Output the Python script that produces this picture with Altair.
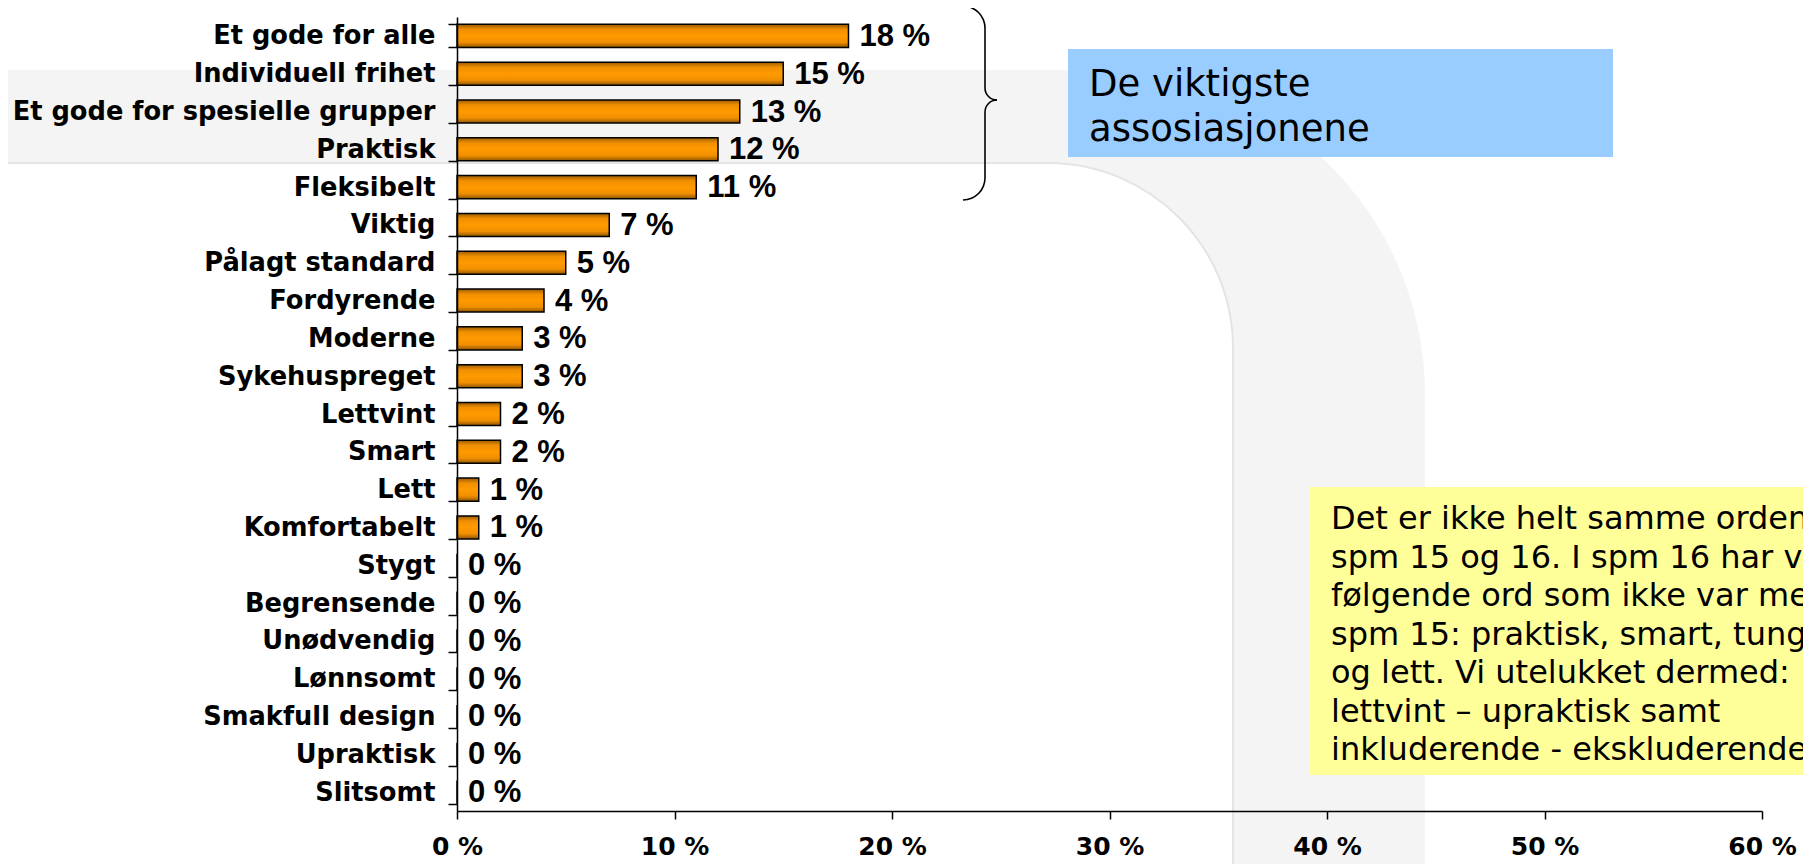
import math
import altair as alt
import pandas as pd

# ---------------- data ----------------
categories = [
    "Et gode for alle", "Individuell frihet", "Et gode for spesielle grupper",
    "Praktisk", "Fleksibelt", "Viktig", "Pålagt standard", "Fordyrende",
    "Moderne", "Sykehuspreget", "Lettvint", "Smart", "Lett", "Komfortabelt",
    "Stygt", "Begrensende", "Unødvendig", "Lønnsomt", "Smakfull design",
    "Upraktisk", "Slitsomt",
]
values = [18, 15, 13, 12, 11, 7, 5, 4, 3, 3, 2, 2, 1, 1, 0, 0, 0, 0, 0, 0, 0]
x_ticks = [0, 10, 20, 30, 40, 50, 60]
callout_lines = ["De viktigste", "assosiasjonene"]
note_lines = [
    "Det er ikke helt samme ordene i",
    "spm 15 og 16. I spm 16 har vi",
    "følgende ord som ikke var med i",
    "spm 15: praktisk, smart, tung",
    "og lett. Vi utelukket dermed:",
    "lettvint – upraktisk samt",
    "inkluderende - ekskluderende",
]

df = pd.DataFrame({"ord": categories, "andel": values})
df["etikett"] = df["andel"].astype(str) + " %"
one = pd.DataFrame({"k": [0]})

# ---------------- layout ----------------
W, H = 1305, 794
PAD_L, PAD_T = 449, 9
PAD_R = 1795 - PAD_L - W
PAD_B = 856 - PAD_T - H
OX, OY = 457, 17  # page position of plot origin


def px(x):
    return x - OX


def py(y):
    return y - OY


# ---------------- decoration: background band ----------------
bg_outer = alt.Chart(one).mark_rect(fill="#f4f4f4", cornerRadiusTopRight=325).encode(
    x=alt.value(-470), x2=alt.value(px(1425)), y=alt.value(py(70)), y2=alt.value(py(920))
)
bg_inner = alt.Chart(one).mark_rect(
    fill="white", stroke="#e4e4e4", strokeWidth=2, cornerRadiusTopRight=185
).encode(
    x=alt.value(-480), x2=alt.value(px(1233)), y=alt.value(py(163)), y2=alt.value(py(940))
)

# ---------------- decoration: curly brace ----------------
brace_layers = []
for (x, y1, y2) in [(985, 28, 88), (985, 112, 178)]:
    brace_layers.append(
        alt.Chart(one).mark_rule(color="black", strokeWidth=1.6).encode(
            x=alt.value(px(x)), y=alt.value(py(y1)), y2=alt.value(py(y2))
        )
    )
for (cx, cy, r, t1, t2) in [
    (963, 28, 22, 0.0, math.pi / 2),
    (997, 88, 12, math.pi, 1.5 * math.pi),
    (997, 112, 12, 1.5 * math.pi, 2 * math.pi),
    (963, 178, 22, math.pi / 2, math.pi),
]:
    brace_layers.append(
        alt.Chart(one).mark_arc(
            fill="black", theta=t1, theta2=t2, radius=r + 0.8, radius2=r - 0.8
        ).encode(x=alt.value(px(cx)), y=alt.value(py(cy)))
    )

# ---------------- callout boxes ----------------
blue_box = alt.Chart(one).mark_rect(fill="#99CCFF").encode(
    x=alt.value(px(1068)), x2=alt.value(px(1613)), y=alt.value(py(49)), y2=alt.value(py(157))
)
blue_text = alt.Chart(one).mark_text(
    align="left", baseline="alphabetic", font="DejaVu Sans", fontSize=37,
    lineHeight=45, color="black"
).encode(x=alt.value(px(1089)), y=alt.value(py(96)), text=alt.value(callout_lines))

yellow_box = alt.Chart(one).mark_rect(fill="#FFFF99").encode(
    x=alt.value(px(1310)), x2=alt.value(px(1860)), y=alt.value(py(487)), y2=alt.value(py(775))
)
yellow_text = alt.Chart(one).mark_text(
    align="left", baseline="alphabetic", font="DejaVu Sans", fontSize=32,
    lineHeight=38.5, color="black"
).encode(x=alt.value(px(1331)), y=alt.value(py(529)), text=alt.value(note_lines))

# ---------------- bars ----------------
bar_fill = alt.Gradient(
    gradient="linear",
    stops=[
        alt.GradientStop(offset=0, color="#9a5c00"),
        alt.GradientStop(offset=0.22, color="#f08f00"),
        alt.GradientStop(offset=0.5, color="#ff9a00"),
        alt.GradientStop(offset=0.78, color="#f08f00"),
        alt.GradientStop(offset=1, color="#8c5400"),
    ],
    x1=0, x2=0, y1=0, y2=1,
)

y_enc = alt.Y(
    "ord:N", sort=categories, title=None,
    scale=alt.Scale(paddingInner=0.39, paddingOuter=0.195),
    axis=alt.Axis(
        tickBand="extent", labelFont="DejaVu Sans", labelFontWeight="bold",
        labelFontSize=25.7, labelColor="black", labelPadding=13, labelLimit=700,
        tickSize=9, tickColor="black", tickWidth=1.5,
        domainColor="black", domainWidth=1.5, zindex=1,
    ),
)
x_enc = alt.X(
    "andel:Q", title=None,
    scale=alt.Scale(domain=[0, 60], nice=False, zero=True),
    axis=alt.Axis(
        values=x_ticks, labelExpr="datum.value + ' %'", grid=False,
        labelFont="DejaVu Sans", labelFontWeight="bold", labelFontSize=25,
        labelColor="black", labelPadding=15, labelFlush=False,
        tickSize=8, tickColor="black", tickWidth=1.5,
        domainColor="black", domainWidth=1.5, zindex=1,
    ),
)

bars = alt.Chart(df).mark_bar(fill=bar_fill, stroke="black", strokeWidth=1.5).encode(
    x=x_enc, y=y_enc
)
labels = alt.Chart(df).mark_text(
    align="left", baseline="middle", dx=11, dy=1, font="Liberation Sans",
    fontWeight="bold", fontSize=31, color="black"
).encode(x=alt.X("andel:Q"), y=alt.Y("ord:N", sort=categories), text="etikett:N")

chart = alt.layer(
    bg_outer, bg_inner, *brace_layers, blue_box, blue_text, yellow_box, yellow_text,
    bars, labels
).properties(
    width=W, height=H,
    autosize=alt.AutoSizeParams(type="none"),
    padding={"left": PAD_L, "top": PAD_T, "right": PAD_R, "bottom": PAD_B},
    background="white",
).configure_view(strokeWidth=0)

chart.save("out.html", embed_options={"renderer": "svg", "actions": False})
